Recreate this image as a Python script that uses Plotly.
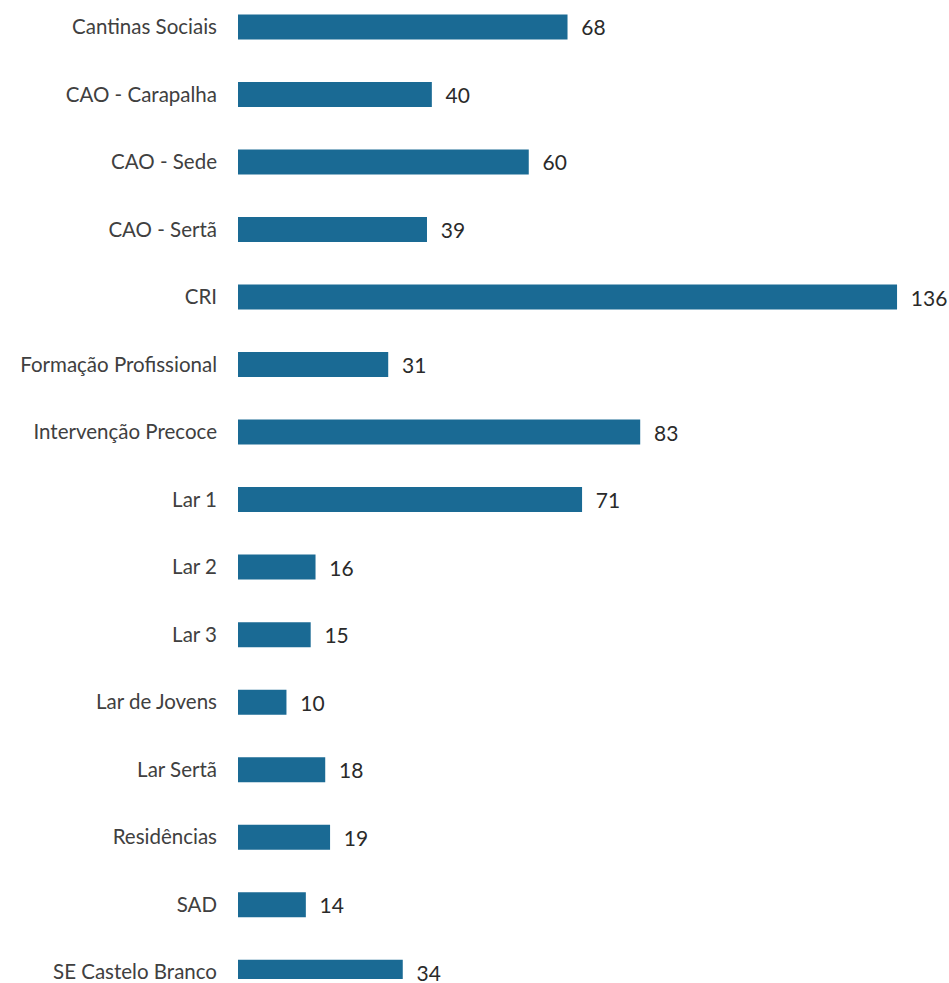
import plotly.graph_objects as go

categories = ["Cantinas Sociais", "CAO - Carapalha", "CAO - Sede", "CAO - Sertã", "CRI",
              "Formação Profissional", "Intervenção Precoce", "Lar 1", "Lar 2", "Lar 3",
              "Lar de Jovens", "Lar Sertã", "Residências", "SAD", "SE Castelo Branco"]
values = [68, 40, 60, 39, 136, 31, 83, 71, 16, 15, 10, 18, 19, 14, 34]

fig = go.Figure(go.Bar(
    x=values, y=categories, orientation="h",
    marker=dict(color="#1a6a94", line=dict(width=0)),
    width=0.37,
    text=[f"  {v}" for v in values], textposition="outside",
    textfont=dict(family="Lato, sans-serif", size=21, color="#2a2a2a"),
    cliponaxis=False,
))
fig.update_layout(
    width=949, height=983,
    margin=dict(l=238, r=8, t=0, b=0),
    paper_bgcolor="white", plot_bgcolor="white",
    showlegend=False,
    xaxis=dict(range=[0, 145.07], visible=False),
    yaxis=dict(categoryorder="array", categoryarray=categories,
               range=[14.1, -0.399], showgrid=False, zeroline=False, showline=False,
               ticks="", ticklabelstandoff=20,
               tickfont=dict(family="Lato, sans-serif", size=20.5, color="#404040")),
)
fig.write_html("out.html", config={"displayModeBar": False},
               post_script="document.body.style.margin='0';document.body.style.overflow='hidden';")
